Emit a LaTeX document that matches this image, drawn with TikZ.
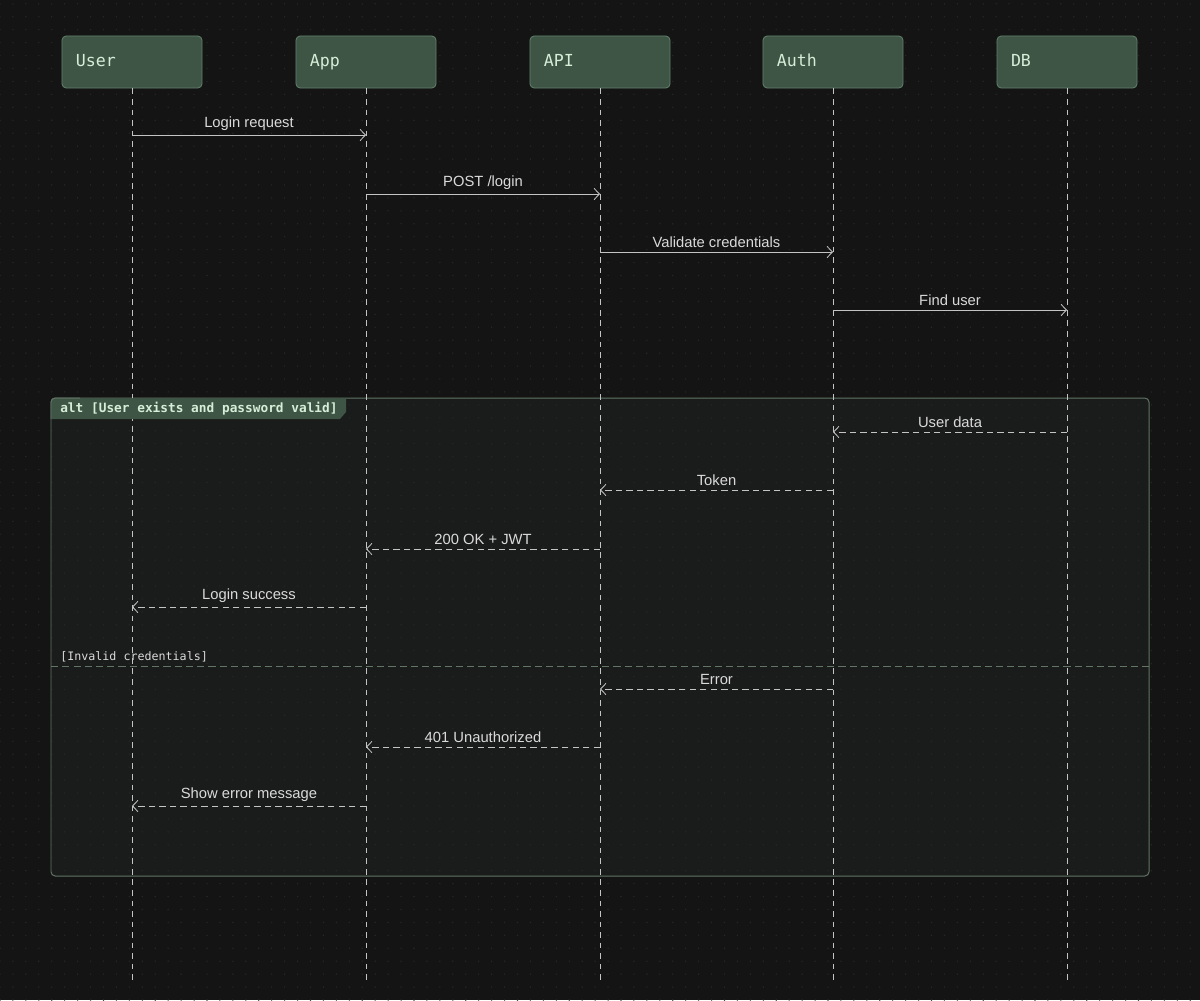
\documentclass[tikz,border=0pt]{standalone}
\usepackage{fontspec}
\setmainfont{Liberation Sans}
\setmonofont{DejaVu Sans Mono}
\usetikzlibrary{arrows.meta,patterns.meta}

\definecolor{bgcol}{HTML}{141414}
\definecolor{dotcol}{HTML}{262826}
\definecolor{framefill}{HTML}{1A1C1B}
\definecolor{framecol}{HTML}{627566}
\definecolor{boxfill}{HTML}{3E5445}
\definecolor{boxline}{HTML}{62806A}
\definecolor{boxtext}{HTML}{D6EED8}
\definecolor{linecol}{HTML}{C4C4C4}
\definecolor{labelcol}{HTML}{DADADA}

\begin{document}
\begin{tikzpicture}[x=0.025cm,y=-0.025cm,
    actor/.style={draw=boxline, fill=boxfill, rounded corners=3pt, line width=0.6pt,
      minimum width=3.5cm, minimum height=1.3cm, text width=2.8cm, align=left,
      text height=8.6pt, text depth=2.4pt,
      inner xsep=0.35cm, text=boxtext, font=\ttfamily\fontsize{11.8}{13}\selectfont},
    lifeline/.style={linecol, dashed, dash pattern=on 4pt off 3.5pt, line width=0.6pt},
    msg/.style={linecol, line width=0.6pt, -{Straight Barb[length=3.8pt,width=8pt]}},
    ret/.style={msg, dashed, dash pattern=on 4.5pt off 3pt},
    msglabel/.style={text=labelcol, font=\fontsize{10.5}{12}\selectfont, inner sep=1pt}]

  % background
  \fill[bgcol] (0,0) rectangle (1200,1000);
  \fill[framefill, rounded corners=3pt] (51,398) rectangle (1149,876);
  \fill[pattern={Dots[distance=9.2pt,radius=0.55pt]}, pattern color=dotcol] (0,0) rectangle (1200,1000);

  % alt frame
  \draw[framecol, line width=0.7pt, rounded corners=3pt] (51,398) rectangle (1149,876);
  \draw[framecol, dashed, dash pattern=on 5pt off 3pt, line width=0.6pt] (51,666) -- (1149,666);
  \node[anchor=west, text=labelcol, font=\ttfamily\fontsize{8.3}{10}\selectfont, inner sep=0pt]
    (elselabel) at (60,657) {[Invalid credentials]};

  % participants and lifelines
  \foreach \name/\txt/\x in {user/User/132, app/App/366, api/API/600, auth/Auth/833, db/DB/1067}{
    \node[actor] (\name) at (\x,62) {\txt};
    \coordinate (\name end) at (\x,980);
    \draw[lifeline] (\name.south) -- (\name end);
  }

  % alt tab, over the lifelines
  \fill[boxfill] (51,419) -- (51,401) [rounded corners=3pt] -- (51,398) [sharp corners] -- (346,398)
    -- (346,412) -- (340,419) -- cycle;
  \draw[framecol, line width=0.7pt, rounded corners=3pt] (51,419) |- (80,398);
  \node[anchor=west, text=boxtext, font=\ttfamily\bfseries\fontsize{9.1}{10}\selectfont, inner sep=0pt]
    (altlabel) at (60,409) {alt [User exists and password valid]};

  % messages
  \foreach \y/\a/\b/\txt/\kind in {135/user/app/Login request/msg,
      194/app/api/{POST /login}/msg,
      252/api/auth/Validate credentials/msg,
      310/auth/db/Find user/msg,
      432/db/auth/User data/ret,
      490/auth/api/Token/ret,
      549/api/app/200 OK + JWT/ret,
      607/app/user/Login success/ret,
      689/auth/api/Error/ret,
      747/api/app/401 Unauthorized/ret,
      806/app/user/Show error message/ret}{
    \coordinate (row) at (0,\y);
    \draw[\kind] (\a |- row) -- node[above=2pt, msglabel] {\txt} (\b |- row);
  }
\end{tikzpicture}
\end{document}
